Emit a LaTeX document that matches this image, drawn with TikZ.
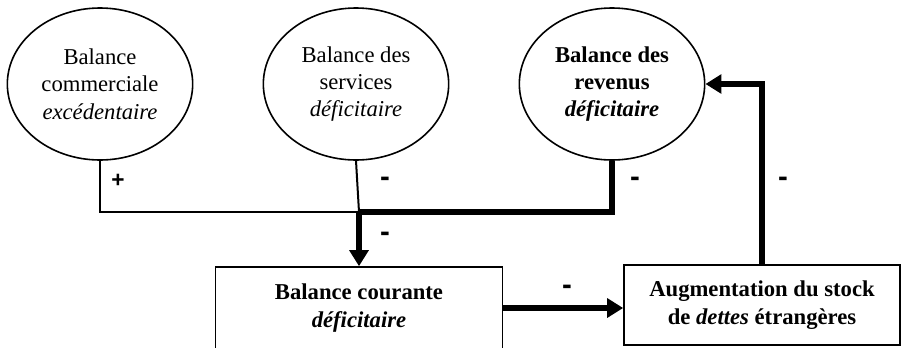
\documentclass[tikz,border=0pt]{standalone}
\usepackage{fontspec}
\setmainfont{Liberation Serif}
\newfontfamily\signfont{Liberation Sans}
\usepackage{tikz}
\usetikzlibrary{arrows.meta,shapes.geometric}
\tikzset{
  balEllipse/.style={draw, ellipse, line width=1.2pt, minimum width=139pt, minimum height=114pt, align=center, inner sep=0pt, font=\fontsize{17}{20.5}\selectfont},
  balBox/.style={draw, rectangle, line width=1.2pt, align=center, inner sep=0pt, font=\fontsize{17}{21.5}\selectfont\bfseries},
  thinLink/.style={line width=1.5pt},
  thickLink/.style={line width=3.8pt},
  bigTip/.style={-{Triangle[length=12pt,width=14pt]}},
  signLabel/.style={font=\signfont\bfseries\fontsize{17}{18}\selectfont},
  minusLabel/.style={font=\signfont\bfseries\fontsize{22}{24}\selectfont}
}

\begin{document}
\begin{tikzpicture}[x=0.75pt, y=-0.75pt]
  \useasboundingbox (0,0) rectangle (902,347);

  % the three balances
  \node[balEllipse] (commerce) at (100,84) {Balance\\commerciale\\\textit{excédentaire}};
  \node[balEllipse] (services) at (356,84) {Balance des\\services\\\textit{déficitaire}};
  \node[balEllipse, font=\fontsize{17}{20.5}\selectfont\bfseries] (revenus) at (612,84) {Balance des\\revenus\\\textit{déficitaire}};

  % current account and debt stock
  \node[balBox, minimum width=215pt, minimum height=61.5pt] (courante) at (359,308) {Balance courante\\\textit{déficitaire}};
  \node[balBox, minimum width=207pt, minimum height=60pt] (dettes) at (762,305) {Augmentation du stock\\de \textit{dettes} étrangères};

  \coordinate (join) at (359,212);

  \draw[thinLink] (commerce.south) |- (join);
  \draw[thinLink] (services.south) -- (join);
  \draw[thickLink] (revenus.south) |- (join);
  \draw[thickLink, bigTip] (join) -- (courante.north);
  \draw[thickLink, bigTip] (courante.east) -- (dettes.west |- courante.east);
  \draw[thickLink, bigTip] (dettes.north) |- (revenus.east);

  % signs
  \node[signLabel] (s1) at (118,181) {+};
  \node[minusLabel] (s2) at (385,182) {-};
  \node[minusLabel] (s3) at (635,182) {-};
  \node[minusLabel] (s4) at (385,237) {-};
  \node[minusLabel] (s5) at (783,182) {-};
  \node[minusLabel] (s6) at (567,290) {-};
\end{tikzpicture}
\end{document}
